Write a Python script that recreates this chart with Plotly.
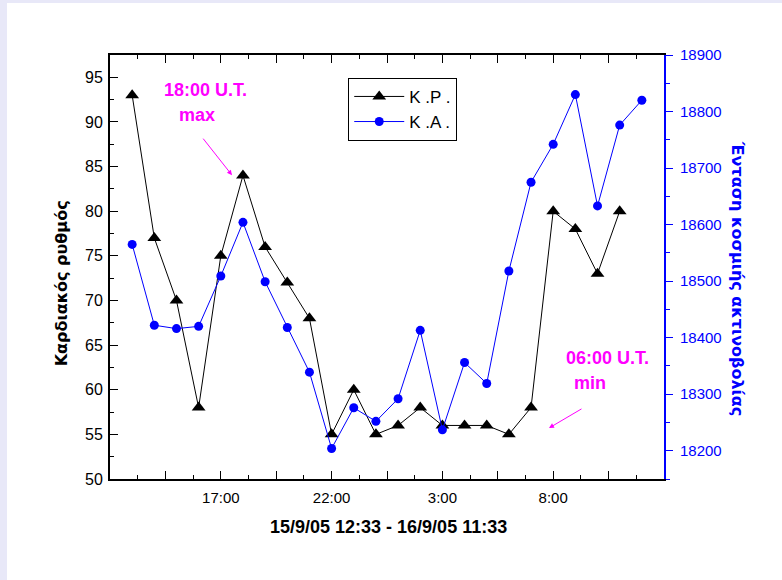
import numpy as np
import plotly.graph_objects as go

# Hourly samples, 15/9/05 12:33 -> 16/9/05 11:33
hour_index = list(range(1, 25))
heart_rate = [93, 77, 70, 58, 75, 84, 76, 72, 68, 55, 60, 55,
              56, 58, 56, 56, 56, 55, 58, 80, 78, 73, 80]
cosmic_rays = [18565, 18422, 18416, 18420, 18509, 18604, 18499, 18418,
               18339, 18204, 18276, 18252, 18292, 18413, 18237, 18356,
               18319, 18518, 18675, 18742, 18830, 18633, 18776, 18820]

label_pos = [5, 10, 15, 20]
label_text = ["17:00", "22:00", "3:00", "8:00"]

BLUE = "#0000FF"
MAGENTA = "#FF00FF"
TICK_FONT = "Liberation Sans, Arial, sans-serif"
GREEK_FONT = "DejaVu Sans, Verdana, sans-serif"

major_x = np.arange(0, 25.01, 2.5)
minor_x = np.arange(1.25, 25, 2.5)
major_text = [label_text[label_pos.index(v)] if v in label_pos else "" for v in major_x]

fig = go.Figure()
fig.add_trace(go.Scatter(
    x=hour_index[:len(heart_rate)], y=heart_rate, name="Κ .Ρ .",
    mode="lines+markers",
    line=dict(color="black", width=1),
    marker=dict(symbol="triangle-up", size=12, color="black"),
))
fig.add_trace(go.Scatter(
    x=hour_index[:len(cosmic_rays)], y=cosmic_rays, name="Κ .Α .",
    mode="lines+markers", yaxis="y2",
    line=dict(color=BLUE, width=1),
    marker=dict(symbol="circle", size=9, color=BLUE),
))


def note(text, x, y, size=18, color=MAGENTA, **kw):
    base = dict(text=text, x=x, y=y, showarrow=False,
                xanchor="center", yanchor="middle",
                font=dict(family=TICK_FONT, size=size, color=color))
    base.update(kw)
    return base


annotations = [
    # axis titles
    note("<b>Καρδιακός ρυθμός</b>", -0.088, 0.462,
         xref="paper", yref="paper", textangle=-90,
         font=dict(family=GREEK_FONT, size=16, color="black")),
    note("<b>Ένταση κοσμιής ακτινοβολίας</b>", 1.1336, 0.474,
         xref="paper", yref="paper", textangle=90,
         font=dict(family=GREEK_FONT, size=16, color=BLUE)),
    note("<b>15/9/05 12:33 - 16/9/05 11:33</b>", 0.502, -0.113,
         size=18, color="black", xref="paper", yref="paper"),
    # max / min notes
    note("<b>18:00 U.T.</b>", 4.33, 93.56),
    note("<b>max</b>", 3.93, 90.76),
    dict(text="", x=5.505, y=84.04, ax=-30, ay=-38, showarrow=True,
         arrowhead=2, arrowsize=1, arrowwidth=1, arrowcolor=MAGENTA),
    note("<b>06:00 U.T.</b>", 22.43, 63.55),
    note("<b>min</b>", 21.66, 60.75),
    dict(text="", x=19.81, y=55.71, ax=34, ay=-20, showarrow=True,
         arrowhead=2, arrowsize=1, arrowwidth=1, arrowcolor=MAGENTA),
]

fig.update_layout(
    width=782, height=580,
    margin=dict(l=110, r=118, t=55, b=101),
    paper_bgcolor="#E8E8F8",
    plot_bgcolor="white",
    showlegend=True,
    legend=dict(x=0.43, y=0.946, xanchor="left", yanchor="top",
                bgcolor="white", bordercolor="black", borderwidth=1,
                font=dict(family=TICK_FONT, size=17, color="black"),
                itemwidth=50, tracegroupgap=0),
    shapes=[dict(type="rect", xref="paper", yref="paper",
                 x0=-0.1859, x1=1.4, y0=-0.4, y1=1.1226,
                 fillcolor="white", line=dict(width=0), layer="below")],
    annotations=annotations,
    xaxis=dict(
        range=[0, 25], showgrid=False, zeroline=False,
        showline=True, linecolor="black", linewidth=2, mirror="ticks",
        tickmode="array", tickvals=major_x, ticktext=major_text,
        ticks="inside", ticklen=8, tickwidth=1, tickcolor="black",
        ticklabelstandoff=4,
        minor=dict(tickmode="array", tickvals=minor_x, ticks="inside",
                   ticklen=4, tickwidth=1, tickcolor="black"),
        tickfont=dict(family=TICK_FONT, size=15, color="black"),
    ),
    yaxis=dict(
        range=[50, 97.5], showgrid=False, zeroline=False,
        showline=True, linecolor="black", linewidth=2,
        tick0=50, dtick=5, ticks="inside", ticklen=8, tickwidth=1,
        tickcolor="black", ticklabelstandoff=2,
        minor=dict(dtick=2.5, ticks="inside", ticklen=4, tickwidth=1,
                   tickcolor="black"),
        tickfont=dict(family=TICK_FONT, size=16, color="black"),
    ),
    yaxis2=dict(
        overlaying="y", side="right",
        range=[18150, 18900], showgrid=False, zeroline=False,
        showline=True, linecolor=BLUE, linewidth=2,
        tick0=18200, dtick=100, ticks="outside", ticklen=7, tickwidth=1,
        tickcolor=BLUE, ticklabelstandoff=4, tickformat="d",
        minor=dict(dtick=50, ticks="outside", ticklen=4, tickwidth=1,
                   tickcolor=BLUE),
        tickfont=dict(family=TICK_FONT, size=15, color=BLUE),
    ),
)

fig.write_html("out.html")
